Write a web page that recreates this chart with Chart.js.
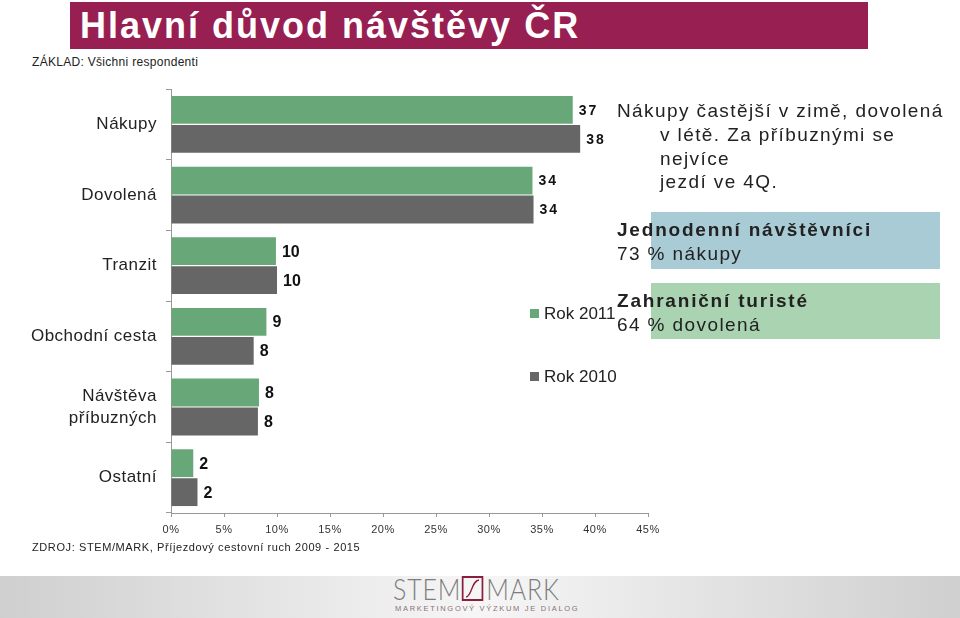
<!DOCTYPE html>
<html>
<head>
<meta charset="utf-8">
<script src="https://cdn.jsdelivr.net/npm/chart.js@4.4.1/dist/chart.umd.min.js"></script>
<style>
  body { margin: 0; background: #fff; font-family: "Liberation Sans", Arial, sans-serif; }
  #page { position: relative; width: 960px; height: 618px; overflow: hidden; }
  .abs { position: absolute; white-space: nowrap; }
  #band { left: 70px; top: 2px; width: 798px; height: 47px; background: #971f51; }
  #title { left: 80px; top: 3px; color: #fff; font: bold 36px "Liberation Sans Narrow", "Liberation Sans", Arial; letter-spacing: 2px; line-height: 46px; }
  #base { left: 32px; top: 55px; font-size: 12px; color: #222; letter-spacing: 0.3px; }
  #source { left: 32px; top: 541px; font-size: 11px; color: #222; letter-spacing: 0.6px; }
  #chartBox { left: 0; top: 69px; width: 700px; height: 481px; }
  .note { font-size: 19px; color: #222; letter-spacing: 1.4px; line-height: 23.5px; }
  .box { position: absolute; }
  .leg { font-size: 17px; color: #222; }
  .leg i { display: inline-block; width: 9px; height: 9px; margin-right: 5px; vertical-align: 1px; }
  #footer { left: 0; top: 576px; width: 960px; height: 42px;
    background: linear-gradient(to right, #cfcfcf 0%, #e6e6e6 30%, #f6f6f6 50%, #e6e6e6 70%, #cfcfcf 100%); }
  #logo { left: 393px; top: 574px; font: 300 29px Lato, "Liberation Sans", sans-serif; color: #7d7d7d; letter-spacing: 1px; line-height: 30px; transform: scaleX(0.86); transform-origin: left top; }
  #logo span.sq { display: inline-block; width: 21px; height: 21px; border: 2px solid #8b1d3e; vertical-align: -1px; margin: 0 3px 0 1px; position: relative; }
  #tag { left: 395px; top: 604px; font-size: 7.5px; color: #8a7079; letter-spacing: 1.7px; }
</style>
</head>
<body>
<div id="page">
  <div id="band" class="abs"></div>
  <div id="title" class="abs">Hlavní důvod návštěvy ČR</div>
  <div id="base" class="abs">ZÁKLAD: Všichni respondenti</div>

  <div id="chartBox" class="abs"><canvas id="chart"></canvas></div>

  <div id="legend"></div>

  <div class="abs note" style="left:617px; top:99px;">Nákupy častější v zimě, dovolená</div>
  <div class="abs note" style="left:660px; top:123px;">v létě. Za příbuznými se<br>nejvíce<br>jezdí ve 4Q.</div>

  <div class="box" style="left:651px; top:212px; width:289px; height:57px; background:#a9cbd6;"></div>
  <div class="abs note" style="left:617px; top:218px;"><b style="letter-spacing:1.8px">Jednodenní návštěvníci</b><br>73 % nákupy</div>

  <div class="box" style="left:651px; top:283px; width:289px; height:56px; background:#a9d3b1;"></div>
  <div class="abs note" style="left:617px; top:289px;"><b style="letter-spacing:1.8px">Zahraniční turisté</b><br>64 % dovolená</div>

  <div id="source" class="abs">ZDROJ: STEM/MARK, Příjezdový cestovní ruch 2009 - 2015</div>

  <div id="footer" class="abs"></div>
  <div id="logo" class="abs">STEM<span class="sq"><svg width="21" height="21" style="position:absolute;left:0;top:0"><path d="M3 19 C10 18 9 3 18 2" stroke="#8b1d3e" stroke-width="1.6" fill="none"/></svg></span>MARK</div>
  <div id="tag" class="abs">MARKETINGOVÝ VÝZKUM JE DIALOG</div>
</div>

<script>
// categories and values
const categories = ['Nákupy', 'Dovolená', 'Tranzit', 'Obchodní cesta', ['Návštěva', 'příbuzných'], 'Ostatní'];
const seriesNames = ['Rok 2011', 'Rok 2010'];
const values2011 = [37.9, 34.1, 9.9, 9.0, 8.3, 2.1];
const values2010 = [38.6, 34.2, 10.0, 7.8, 8.2, 2.5];
// numbers printed next to the bars
const labels2011 = ['37', '34', '10', '9', '8', '2'];
const labels2010 = ['38', '34', '10', '8', '8', '2'];
const xTicks = [0, 5, 10, 15, 20, 25, 30, 35, 40, 45];

const colors = ['#68a878', '#666666'];

// legend (custom placed, like the original)
const legendPos = [{ left: 530, top: 304 }, { left: 530, top: 367 }];
const legend = document.getElementById('legend');
seriesNames.forEach(function(name, i) {
  const d = document.createElement('div');
  d.className = 'abs leg';
  d.style.left = legendPos[i].left + 'px';
  d.style.top = legendPos[i].top + 'px';
  d.innerHTML = '<i style="background:' + colors[i] + '"></i>' + name;
  legend.appendChild(d);
});

// value labels at the bar ends
const valueLabels = {
  id: 'valueLabels',
  afterDatasetsDraw(chart) {
    const ctx = chart.ctx;
    const texts = [labels2011, labels2010];
    ctx.save();
    ctx.fillStyle = '#111';
    ctx.textBaseline = 'middle';
    ctx.textAlign = 'left';
    chart.data.datasets.forEach(function(ds, di) {
      const meta = chart.getDatasetMeta(di);
      meta.data.forEach(function(bar, i) {
        const size = i < 2 ? 14 : 16;
        ctx.font = 'bold ' + size + 'px "Liberation Sans", Arial';
        ctx.letterSpacing = i < 2 ? '2px' : '0px';
        ctx.fillText(texts[di][i], bar.x + 6, bar.y + 1);
      });
    });
    ctx.restore();
  }
};

const spacing = {
  id: 'spacing',
  beforeDraw(chart) { chart.ctx.letterSpacing = '0.5px'; }
};

new Chart(document.getElementById('chart'), {
  type: 'bar',
  data: {
    labels: categories,
    datasets: [
      { label: seriesNames[0], data: values2011, backgroundColor: colors[0] },
      { label: seriesNames[1], data: values2010, backgroundColor: colors[1] }
    ]
  },
  options: {
    indexAxis: 'y',
    responsive: true,
    maintainAspectRatio: false,
    animation: false,
    layout: { padding: { top: 9, right: 52, left: 0, bottom: 0 } },
    datasets: { bar: { categoryPercentage: 0.82, barPercentage: 0.96 } },
    plugins: { legend: { display: false }, tooltip: { enabled: false } },
    scales: {
      x: {
        min: 0, max: 45,
        afterBuildTicks(scale) { scale.ticks = xTicks.map(v => ({ value: v })); },
        afterFit(scale) { scale.height = 37; },
        grid: { drawOnChartArea: false, tickLength: 4, color: '#999' },
        border: { color: '#999' },
        ticks: {
          padding: 6,
          color: '#333',
          font: { size: 11, family: '"Liberation Sans", Arial' },
          callback: v => v + '%'
        }
      },
      y: {
        afterFit(scale) { scale.width = 171; },
        grid: { drawOnChartArea: false, tickLength: 5, color: '#999', offset: true },
        border: { color: '#999' },
        ticks: {
          padding: 9,
          color: '#222',
          font: { size: 17, family: '"Liberation Sans", Arial', lineHeight: 1.3 }
        }
      }
    }
  },
  plugins: [spacing, valueLabels]
});
</script>
</body>
</html>
